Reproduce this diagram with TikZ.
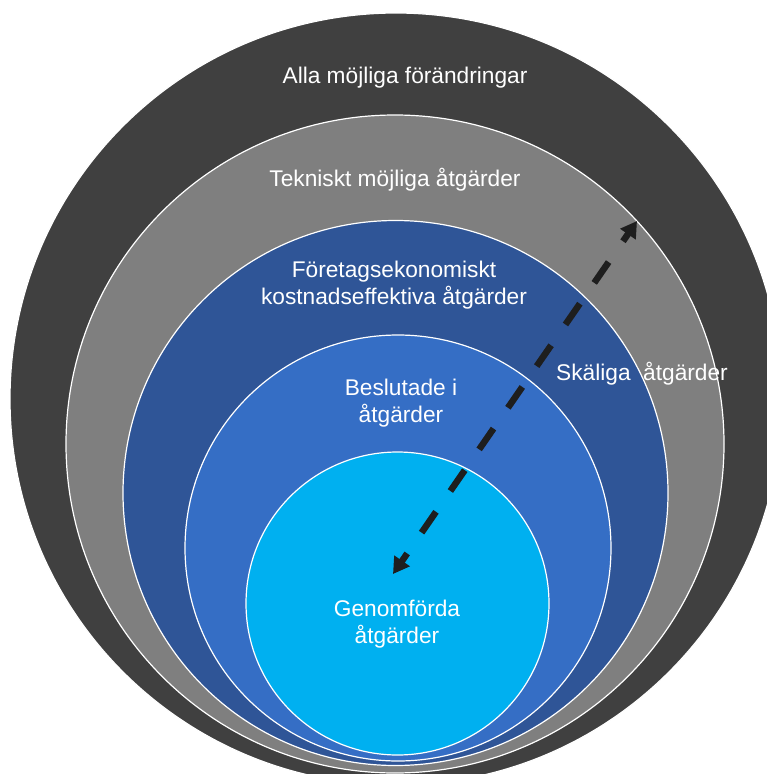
\documentclass[tikz,border=0pt]{standalone}
\usepackage{fontspec}
\setmainfont{Liberation Sans}
\usetikzlibrary{arrows.meta}
\definecolor{cOuter}{HTML}{404040}
\definecolor{cGray}{HTML}{7F7F7F}
\definecolor{cDark}{HTML}{2F5597}
\definecolor{cMid}{HTML}{356EC5}
\definecolor{cCyan}{HTML}{00B0F0}
\definecolor{cArrow}{HTML}{1E1E1E}
\begin{document}
\begin{tikzpicture}[x=1pt,y=-1pt,
  ring/.style={circle, draw=white, line width=1.2pt, inner sep=0pt, outer sep=0pt},
  lbl/.style={text=white, font=\fontsize{22.7}{27.5}\selectfont, align=center, inner sep=0pt},
  twoway/.style={line width=6.5pt, draw=cArrow, dash pattern=on 25.3pt off 25.3pt, dash phase=15.3pt,
    {Triangle[length=16pt,width=18pt]}-{Triangle[length=16pt,width=18pt]}}]
\useasboundingbox (0,0) rectangle (767,774);
\begin{scope}
\clip (0,0) rectangle (767,774);
\node[ring, fill=cOuter, minimum size=772pt] (all) at (396,399) {};
\node[ring, fill=cGray, minimum size=658pt] (tech) at (395,444) {};
\node[ring, fill=cDark, minimum size=545pt] (cost) at (395.5,493) {};
\node[ring, fill=cMid, minimum size=426pt] (decided) at (398,548) {};
\node[ring, fill=cCyan, minimum size=303pt] (done) at (397.5,603.5) {};
\end{scope}
\node[lbl] (tAll) at (405,78) {Alla möjliga förändringar};
\node[lbl] (tTech) at (395,180) {Tekniskt möjliga åtgärder};
\node[lbl] (tCost) at (394,285) {Företagsekonomiskt\\kostnadseffektiva åtgärder};
\node[lbl] (tDec) at (401,403) {Beslutade i\\åtgärder};
\node[lbl] (tReas) at (642,374) {Skäliga\ \ åtgärder};
\node[lbl] (tDone) at (397,624) {Genomförda\\åtgärder};
\coordinate (inner) at (393,574);
\coordinate (outer) at (637,221);
\draw[twoway] (inner) -- (outer);
\end{tikzpicture}
\end{document}
